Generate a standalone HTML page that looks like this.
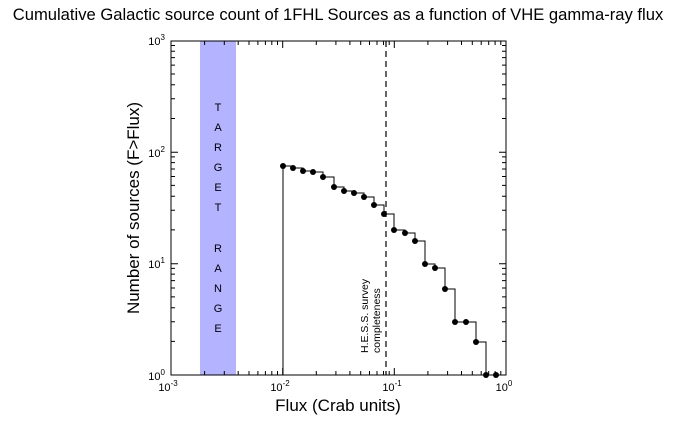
<!DOCTYPE html>
<html><head><style>body{margin:0;background:#fff}svg{display:block}</style></head><body>
<svg width="677" height="421" xmlns="http://www.w3.org/2000/svg" font-family="Liberation Sans, sans-serif">
<rect width="677" height="421" fill="#fff"/>
<text x="338" y="20" font-size="16.6" text-anchor="middle">Cumulative Galactic source count of 1FHL Sources as a function of VHE gamma-ray flux</text>
<rect x="200" y="41" width="36" height="334" fill="#b3b3ff"/>
<g font-size="11" text-anchor="middle" fill="#000">
<text x="218" y="111">T</text><text x="218" y="131">A</text><text x="218" y="151">R</text><text x="218" y="171">G</text><text x="218" y="191">E</text><text x="218" y="211">T</text>
<text x="218" y="252">R</text><text x="218" y="272">A</text><text x="218" y="292">N</text><text x="218" y="312">G</text><text x="218" y="332">E</text>
</g>
<line x1="386" y1="41" x2="386" y2="375" stroke="#000" stroke-dasharray="6,4" stroke-width="1.2"/>
<g font-size="10.5" transform="translate(368,353) rotate(-90)"><text x="0" y="0">H.E.S.S. survey</text><text x="0" y="12">completeness</text></g>
<path d="M283,375 V166 H293 V168 H303 V171 H313 V172 H323 V177 H334 V187 H344 V191 H354 V193 H364 V197 H374 V205 H384 V214 H394 V230 H405 V233 H415 V241 H425 V264 H435 V268 H445 V289 H455 V322 H466 V322 H476 V342 H486 V375" fill="none" stroke="#000" stroke-width="1"/>
<g fill="#000">
<circle cx="283" cy="166" r="3"/><circle cx="293" cy="168" r="3"/><circle cx="303" cy="171" r="3"/><circle cx="313" cy="172" r="3"/><circle cx="323" cy="177" r="3"/><circle cx="334" cy="187" r="3"/><circle cx="344" cy="191" r="3"/><circle cx="354" cy="193" r="3"/><circle cx="364" cy="197" r="3"/><circle cx="374" cy="205" r="3"/><circle cx="384" cy="214" r="3"/><circle cx="394" cy="230" r="3"/><circle cx="405" cy="233" r="3"/><circle cx="415" cy="241" r="3"/><circle cx="425" cy="264" r="3"/><circle cx="435" cy="268" r="3"/><circle cx="445" cy="289" r="3"/><circle cx="455" cy="322" r="3"/><circle cx="466" cy="322" r="3"/><circle cx="476" cy="342" r="3"/><circle cx="486" cy="375" r="3"/><circle cx="496" cy="375" r="3"/>
</g>
<rect x="171" y="41" width="335" height="334" fill="none" stroke="#000" stroke-width="1"/>
<g stroke="#000" stroke-width="1">
<path d="M282.7,375v-7M282.7,41v7M394.3,375v-7M394.3,41v7M171,152.3h7M506,152.3h-7M171,263.7h7M506,263.7h-7"/>
<path d="M204.6,375v-4M224.3,375v-4M238.2,375v-4M249,375v-4M257.9,375v-4M265.4,375v-4M271.8,375v-4M277.5,375v-4
M316.3,375v-4M335.9,375v-4M349.9,375v-4M360.7,375v-4M369.5,375v-4M377,375v-4M383.5,375v-4M389.2,375v-4
M427.9,375v-4M447.6,375v-4M461.5,375v-4M472.3,375v-4M481.2,375v-4M488.7,375v-4M495.1,375v-4M500.8,375v-4
M204.6,41v4M224.3,41v4M238.2,41v4M249,41v4M257.9,41v4M265.4,41v4M271.8,41v4M277.5,41v4
M316.3,41v4M335.9,41v4M349.9,41v4M360.7,41v4M369.5,41v4M377,41v4M383.5,41v4M389.2,41v4
M427.9,41v4M447.6,41v4M461.5,41v4M472.3,41v4M481.2,41v4M488.7,41v4M495.1,41v4M500.8,41v4"/>
<path d="M171,341.4h4M171,321.7h4M171,307.7h4M171,296.9h4M171,288h4M171,280.6h4M171,274.1h4M171,268.4h4
M171,229.9h4M171,210.2h4M171,196.2h4M171,185.4h4M171,176.5h4M171,169h4M171,162.6h4M171,156.9h4
M171,118.5h4M171,98.8h4M171,84.8h4M171,74h4M171,65.1h4M171,57.6h4M171,51.2h4M171,45.5h4
M506,341.4h-4M506,321.7h-4M506,307.7h-4M506,296.9h-4M506,288h-4M506,280.6h-4M506,274.1h-4M506,268.4h-4
M506,229.9h-4M506,210.2h-4M506,196.2h-4M506,185.4h-4M506,176.5h-4M506,169h-4M506,162.6h-4M506,156.9h-4
M506,118.5h-4M506,98.8h-4M506,84.8h-4M506,74h-4M506,65.1h-4M506,57.6h-4M506,51.2h-4M506,45.5h-4"/>
</g>
<g font-size="11" text-anchor="middle">
<text x="168" y="391">10<tspan font-size="8" dy="-5">-3</tspan></text>
<text x="280" y="391">10<tspan font-size="8" dy="-5">-2</tspan></text>
<text x="392" y="391">10<tspan font-size="8" dy="-5">-1</tspan></text>
<text x="504" y="391">10<tspan font-size="8" dy="-5">0</tspan></text>
</g>
<g font-size="11" text-anchor="end">
<text x="165" y="380">10<tspan font-size="8" dy="-5">0</tspan></text>
<text x="165" y="268">10<tspan font-size="8" dy="-5">1</tspan></text>
<text x="165" y="157">10<tspan font-size="8" dy="-5">2</tspan></text>
<text x="165" y="45">10<tspan font-size="8" dy="-5">3</tspan></text>
</g>
<text x="338" y="411" font-size="17" text-anchor="middle">Flux (Crab units)</text>
<text transform="translate(139,208) rotate(-90)" font-size="17" text-anchor="middle">Number of sources (F&gt;Flux)</text>
</svg>
</body></html>
